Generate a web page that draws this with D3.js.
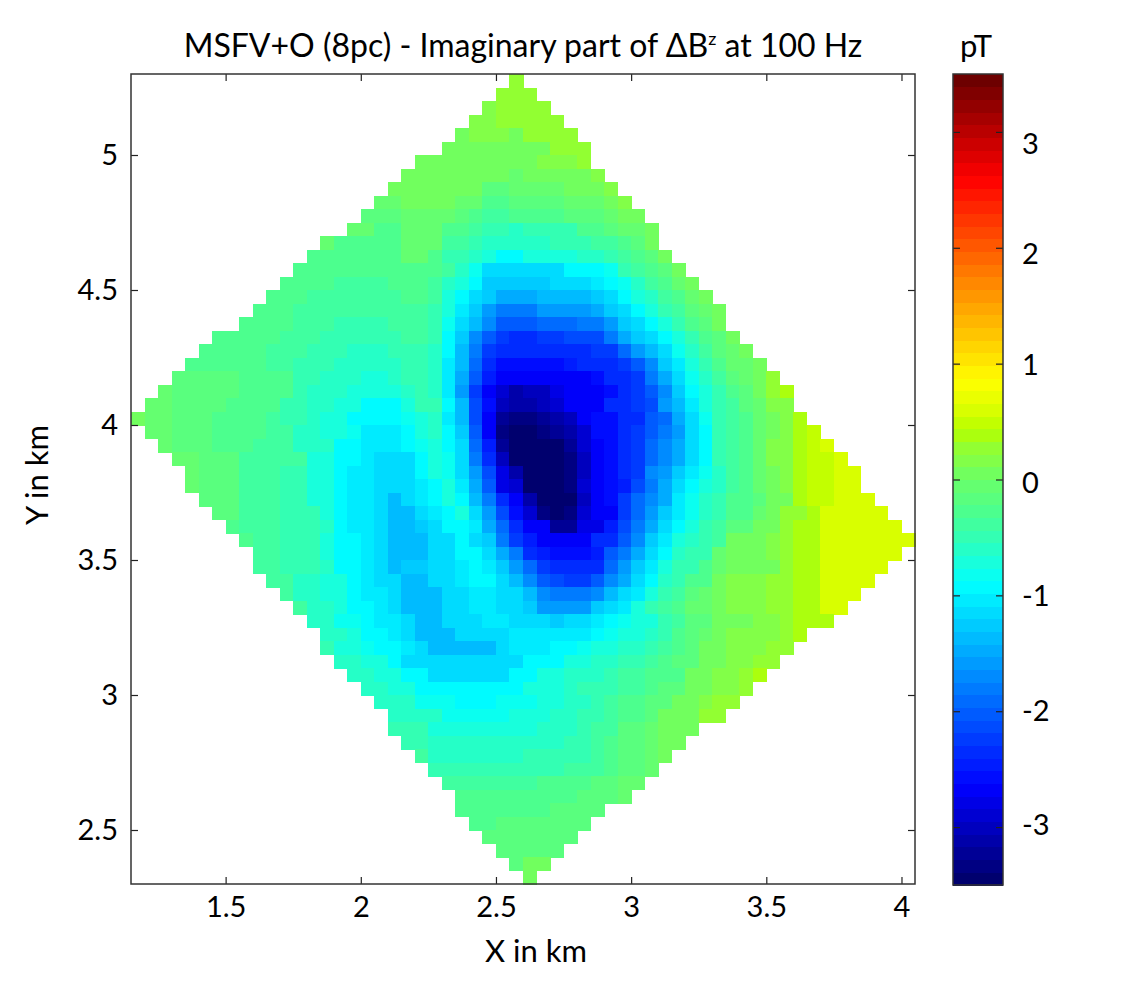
<!DOCTYPE html>
<html>
<head>
<meta charset="utf-8">
<script src="https://cdn.jsdelivr.net/npm/d3@7"></script>
<style>
  html, body { margin: 0; padding: 0; background: #fff; }
  svg { display: block; }
  text { font-family: Lato, "Open Sans", sans-serif; fill: #000; }
  .frame { fill: none; stroke: #333; stroke-width: 1.5; }
  .domain { display: none; }
  .tick line { stroke: #222; stroke-width: 1.2; }
</style>
</head>
<body>
<script>
// grid of the map, km
const xFirst = 1.15, yFirst = 5.3, cellKm = 0.05;
const xTicks = [1.5, 2, 2.5, 3, 3.5, 4];
const yTicks = [2.5, 3, 3.5, 4, 4.5, 5];
const barTicks = [-3, -2, -1, 0, 1, 2, 3];

// colour map, pT
const stopValues = [-3.5, -2.65, -0.9, -0.5, -0.2, 0, 0.1, 0.3, 0.42, 0.62, 0.85, 1.75, 2.6, 3.5];
const stopColors = ['#000064', '#0000ff', '#00ffff', '#32ffb4', '#55ff82', '#69ff69', '#78ff55',
  '#96ff2d', '#b4ff00', '#dcff00', '#ffff00', '#ff8000', '#ff0000', '#640000'];

// first column of each row, top row first
const rowStarts = [28,27,26,25,24,23,21,20,19,18,17,16,14,13,12,11,10,9,8,6,5,4,3,2,1,0,1,2,3,4,
  4,5,6,7,8,9,9,10,11,12,13,14,14,15,16,17,18,19,19,20,21,22,23,24,24,25,26,27,28,29];

// imaginary part of the field, in 0.1 pT
const zRows = [
  [3],
  [3,3,3],
  [2,3,3,3,3],
  [2,2,3,3,3,3,3],
  [1,2,2,2,1,3,3,3,3],
  [1,1,1,1,1,1,1,1,3,3,3],
  [0,1,1,1,1,1,1,0,0,2,2,2,3],
  [0,0,0,0,0,0,0,0,-1,0,0,0,1,1,2],
  [0,0,0,0,0,0,0,-2,-2,-1,-1,-1,-1,0,0,0,2],
  [-1,-1,0,0,0,0,-1,-1,-3,-3,-2,-2,-2,-2,-1,-1,-1,0,2],
  [-2,-2,-2,-1,-1,-1,-1,-2,-3,-4,-4,-3,-3,-3,-3,-2,-2,-2,-1,0,1],
  [-1,-1,-3,-3,-1,-1,-1,-3,-3,-4,-5,-5,-6,-5,-5,-5,-5,-3,-3,-2,-1,-1,1],
  [-1,-3,-3,-3,-3,-3,-1,-1,-1,-4,-4,-5,-6,-6,-6,-6,-6,-5,-5,-5,-4,-4,-3,-2,0],
  [-3,-3,-3,-3,-3,-3,-3,-1,-1,-3,-5,-5,-6,-7,-9,-9,-7,-7,-7,-7,-6,-6,-5,-4,-3,-2,0],
  [-3,-3,-3,-3,-3,-3,-3,-3,-3,-3,-3,-4,-6,-8,-11,-11,-11,-11,-11,-11,-9,-9,-9,-8,-5,-4,-3,-2,0],
  [-3,-3,-3,-3,-4,-4,-4,-4,-3,-3,-3,-4,-6,-7,-9,-13,-13,-13,-13,-13,-12,-12,-12,-10,-9,-8,-6,-4,-3,-1,0],
  [-3,-3,-3,-4,-4,-4,-4,-4,-4,-4,-3,-3,-4,-7,-9,-12,-13,-15,-15,-15,-14,-14,-14,-14,-13,-11,-9,-7,-6,-4,-3,-1,0],
  [-3,-3,-3,-4,-4,-4,-4,-4,-4,-4,-4,-4,-4,-5,-7,-10,-13,-16,-18,-18,-18,-16,-16,-16,-16,-15,-13,-11,-9,-7,-5,-4,-2,-1,1],
  [-3,-3,-3,-3,-4,-4,-4,-5,-5,-5,-5,-4,-4,-4,-5,-8,-11,-14,-17,-20,-20,-20,-19,-19,-19,-18,-18,-16,-13,-11,-9,-7,-5,-3,-2,1],
  [-3,-3,-3,-3,-3,-4,-4,-4,-5,-5,-5,-5,-5,-5,-4,-4,-5,-9,-13,-17,-20,-22,-23,-23,-22,-22,-21,-21,-21,-18,-15,-13,-11,-9,-7,-5,-3,-2,0],
  [-3,-3,-3,-3,-3,-4,-4,-4,-5,-5,-5,-6,-6,-6,-5,-5,-5,-6,-9,-14,-18,-22,-24,-24,-24,-23,-23,-23,-23,-22,-22,-19,-16,-14,-11,-8,-6,-4,-2,-1,1],
  [-3,-3,-3,-3,-3,-3,-4,-4,-5,-5,-5,-6,-6,-6,-6,-6,-5,-5,-6,-10,-14,-19,-24,-26,-26,-26,-26,-26,-25,-24,-23,-23,-22,-20,-17,-13,-10,-7,-5,-3,-1,-1,1],
  [-2,-2,-2,-2,-2,-3,-3,-3,-3,-5,-5,-6,-6,-6,-7,-7,-6,-5,-5,-6,-10,-15,-20,-25,-27,-27,-27,-27,-27,-27,-27,-26,-24,-23,-22,-18,-15,-11,-8,-6,-4,-2,-1,1,3],
  [-1,-2,-2,-2,-2,-2,-3,-3,-3,-3,-5,-6,-6,-6,-7,-7,-7,-7,-6,-5,-6,-10,-16,-22,-27,-29,-31,-30,-30,-28,-27,-27,-27,-26,-23,-22,-20,-17,-13,-9,-7,-5,-3,-2,0,3,4],
  [-1,-1,-2,-2,-2,-2,-3,-3,-3,-3,-5,-5,-6,-6,-7,-7,-9,-9,-9,-7,-5,-5,-9,-14,-21,-26,-30,-31,-31,-30,-29,-27,-27,-27,-24,-23,-22,-21,-16,-14,-10,-7,-5,-4,-2,-1,2,2],
  [0,-1,-1,-2,-2,-2,-3,-3,-3,-3,-4,-5,-5,-6,-7,-7,-9,-9,-9,-9,-8,-7,-6,-10,-14,-21,-27,-32,-33,-33,-32,-31,-30,-27,-26,-26,-24,-23,-20,-19,-15,-11,-8,-5,-4,-3,-1,1,2,4],
  [-1,-1,-2,-2,-2,-3,-3,-3,-3,-4,-4,-6,-6,-7,-7,-8,-10,-10,-10,-9,-7,-6,-9,-13,-20,-27,-33,-35,-35,-33,-32,-31,-29,-26,-26,-24,-22,-20,-18,-16,-11,-9,-5,-4,-3,-1,1,2,4,5],
  [-1,-2,-2,-2,-3,-3,-3,-4,-4,-4,-6,-6,-6,-9,-9,-10,-10,-10,-9,-8,-7,-9,-12,-19,-25,-32,-35,-35,-35,-34,-32,-29,-27,-26,-24,-22,-19,-17,-15,-11,-9,-5,-4,-3,-1,2,2,4,5,6],
  [-1,-1,-2,-2,-2,-4,-4,-4,-4,-4,-7,-7,-9,-9,-10,-12,-12,-11,-9,-7,-8,-12,-18,-24,-30,-35,-35,-35,-35,-33,-30,-27,-26,-24,-22,-19,-17,-15,-11,-9,-5,-4,-3,-1,2,2,4,5,5,6],
  [-1,-2,-2,-2,-4,-4,-4,-5,-5,-7,-7,-9,-10,-10,-12,-12,-12,-9,-7,-8,-11,-16,-21,-28,-31,-35,-35,-35,-33,-30,-27,-26,-24,-22,-17,-16,-13,-10,-8,-6,-4,-3,-1,1,2,4,5,5,6,6],
  [-1,-2,-2,-2,-4,-4,-4,-5,-5,-7,-7,-9,-10,-10,-12,-12,-12,-10,-9,-7,-10,-15,-20,-28,-29,-35,-35,-35,-33,-29,-27,-26,-25,-21,-18,-15,-12,-9,-7,-6,-4,-3,-1,1,2,4,5,5,6,6],
  [-2,-2,-2,-4,-4,-4,-5,-5,-7,-7,-9,-10,-10,-12,-14,-12,-10,-9,-7,-9,-14,-18,-24,-27,-31,-35,-35,-34,-30,-27,-26,-22,-19,-17,-15,-10,-8,-6,-5,-3,-3,-2,1,1,4,5,5,6,6,6],
  [-2,-2,-4,-4,-4,-5,-5,-5,-7,-9,-10,-10,-12,-14,-14,-12,-10,-9,-7,-11,-16,-21,-26,-29,-33,-35,-33,-29,-27,-27,-22,-19,-16,-13,-10,-8,-6,-5,-3,-3,-1,1,3,3,4,6,6,6,6,6],
  [-3,-4,-4,-4,-5,-5,-5,-6,-9,-10,-10,-12,-14,-14,-13,-11,-9,-9,-10,-15,-19,-24,-27,-27,-32,-32,-28,-28,-25,-21,-18,-15,-11,-9,-7,-5,-4,-2,-2,0,1,3,4,4,6,6,6,6,6,6],
  [-3,-4,-4,-5,-5,-5,-7,-9,-9,-10,-12,-14,-14,-14,-12,-11,-9,-11,-13,-18,-22,-25,-27,-27,-27,-27,-24,-24,-20,-17,-13,-10,-7,-6,-5,-4,0,0,0,2,3,4,4,6,6,6,6,6,6,6],
  [-4,-4,-5,-5,-5,-7,-9,-9,-10,-12,-14,-14,-14,-12,-11,-9,-9,-12,-15,-18,-23,-25,-26,-26,-26,-25,-20,-18,-15,-11,-9,-6,-5,-5,-1,0,0,0,2,3,4,4,6,6,6,6,6,6],
  [-4,-4,-5,-5,-5,-6,-9,-9,-10,-12,-14,-13,-13,-12,-11,-10,-9,-10,-13,-16,-19,-22,-23,-24,-24,-24,-19,-16,-13,-10,-7,-5,-5,-3,-1,0,1,1,1,3,4,4,6,6,6,6,6],
  [-4,-4,-6,-6,-7,-7,-9,-10,-12,-12,-14,-14,-12,-11,-10,-9,-9,-11,-14,-17,-20,-21,-22,-22,-20,-17,-15,-11,-9,-6,-5,-3,-3,0,2,2,2,3,3,4,4,6,6,6,6],
  [-4,-6,-6,-7,-7,-9,-10,-10,-12,-14,-14,-14,-12,-12,-10,-10,-11,-12,-14,-17,-18,-18,-18,-17,-14,-11,-10,-7,-5,-4,-2,-1,0,2,2,2,3,3,4,4,6,6,6],
  [-4,-6,-6,-7,-9,-9,-10,-11,-14,-14,-14,-12,-12,-10,-10,-11,-11,-13,-16,-16,-16,-16,-13,-12,-10,-7,-5,-4,-3,-1,-1,1,2,2,2,3,3,4,4,6,6],
  [-6,-6,-8,-8,-9,-10,-10,-12,-14,-14,-11,-11,-11,-10,-10,-11,-11,-11,-13,-12,-12,-10,-9,-8,-7,-7,-5,-4,-2,-2,0,1,1,2,2,3,4,4,4],
  [-6,-6,-7,-9,-9,-10,-12,-14,-14,-14,-11,-11,-11,-11,-10,-10,-10,-10,-10,-10,-9,-8,-7,-7,-6,-5,-3,-2,-1,0,2,2,2,2,3,4],
  [-5,-7,-7,-8,-9,-9,-10,-12,-14,-14,-14,-14,-14,-12,-10,-10,-10,-9,-9,-8,-7,-7,-6,-6,-5,-4,-3,-2,1,1,2,2,2,3,3],
  [-6,-6,-7,-7,-9,-11,-11,-12,-12,-12,-12,-12,-12,-11,-9,-9,-9,-7,-7,-6,-6,-5,-5,-4,-3,-2,-2,1,1,2,2,3,3],
  [-6,-6,-7,-7,-9,-9,-11,-11,-11,-11,-11,-11,-9,-9,-7,-7,-6,-6,-6,-5,-4,-4,-3,-3,-3,0,0,2,2,3,4],
  [-6,-6,-7,-7,-9,-9,-9,-9,-9,-9,-9,-9,-7,-7,-7,-6,-5,-5,-5,-4,-4,-3,-2,-2,1,1,2,2,3],
  [-6,-6,-6,-8,-8,-8,-9,-9,-9,-8,-8,-8,-7,-7,-6,-6,-5,-4,-3,-3,-2,-2,0,0,2,3,3],
  [-6,-6,-6,-6,-8,-8,-8,-8,-8,-7,-7,-7,-6,-6,-5,-5,-4,-3,-3,-2,1,1,1,3,3],
  [-5,-5,-5,-7,-7,-7,-7,-7,-7,-7,-7,-6,-6,-6,-5,-4,-4,-2,-2,-1,1,1,1],
  [-5,-5,-6,-6,-6,-6,-6,-6,-6,-6,-6,-6,-5,-5,-4,-3,-2,-2,-1,1,1],
  [-4,-6,-6,-6,-6,-6,-6,-6,-5,-5,-5,-5,-5,-4,-3,-2,-2,-1,1],
  [-5,-5,-5,-5,-5,-5,-5,-5,-5,-5,-4,-4,-4,-3,-2,-2,-1],
  [-4,-4,-4,-4,-4,-4,-4,-3,-3,-3,-3,-2,-2,-1,-1],
  [-3,-3,-3,-3,-3,-3,-3,-3,-3,-2,-2,-2,-1],
  [-3,-3,-3,-3,-3,-3,-3,-2,-2,-2,-2],
  [-3,-3,-2,-2,-2,-2,-2,-2,-2],
  [-2,-2,-2,-2,-2,-2,-2],
  [-2,-2,-2,-2,-2],
  [-2,0,0],
  [1]
];

const width = 1126, height = 998;
const plot = { left: 131, right: 915, top: 74, bottom: 884 };
const bar = { left: 953, right: 1003, top: 74, bottom: 885 };

const svg = d3.select('body').append('svg').attr('width', width).attr('height', height);

const x = d3.scaleLinear().domain([1.15, 4.05]).range([plot.left, plot.right]);
const y = d3.scaleLinear().domain([2.3, 5.3]).range([plot.bottom, plot.top]);

// 64 flat colours like the figure's colour map
const ramp = d3.scaleLinear().domain(stopValues).range(stopColors).interpolate(d3.interpolateRgb);
const palette = d3.range(64).map(i => ramp(-3.5 + (i + 0.5) * 7 / 64));
const color = d3.scaleQuantize().domain([-3.5, 3.5]).range(palette);

// map cells
const cells = [];
zRows.forEach((row, r) => {
  row.forEach((z, i) => {
    cells.push({ col: rowStarts[r] + i, row: r, z: z / 10 });
  });
});

svg.append('g').attr('shape-rendering', 'crispEdges').selectAll('rect').data(cells).enter().append('rect')
  .attr('x', d => x(xFirst + d.col * cellKm))
  .attr('y', d => y(yFirst - d.row * cellKm))
  .attr('width', x(xFirst + cellKm) - x(xFirst) + 0.5)
  .attr('height', y(yFirst - cellKm) - y(yFirst) + 0.5)
  .attr('fill', d => color(d.z));

// axes, ticks point inward on all four sides
const tickLen = 7;
const xAxis = d3.axisBottom(x).tickValues(xTicks).tickSizeInner(-tickLen).tickSizeOuter(0).tickPadding(12).tickFormat(d => d);
const yAxis = d3.axisLeft(y).tickValues(yTicks).tickSizeInner(-tickLen).tickSizeOuter(0).tickPadding(13).tickFormat(d => d);

const gx = svg.append('g').attr('transform', `translate(0,${plot.bottom})`).call(xAxis);
const gy = svg.append('g').attr('transform', `translate(${plot.left},0)`).call(yAxis);
gx.selectAll('text').style('font-size', '29px');
gy.selectAll('text').style('font-size', '29px');
svg.append('g').attr('transform', `translate(0,${plot.top})`)
  .call(d3.axisTop(x).tickValues(xTicks).tickSizeInner(-tickLen).tickSizeOuter(0).tickFormat(''));
svg.append('g').attr('transform', `translate(${plot.right},0)`)
  .call(d3.axisRight(y).tickValues(yTicks).tickSizeInner(-tickLen).tickSizeOuter(0).tickFormat(''));

svg.append('rect').attr('class', 'frame')
  .attr('x', plot.left).attr('y', plot.top)
  .attr('width', plot.right - plot.left).attr('height', plot.bottom - plot.top);

// colour bar
const yBar = d3.scaleLinear().domain([-3.5, 3.5]).range([bar.bottom, bar.top]);
const band = 7 / palette.length;

svg.append('g').attr('shape-rendering', 'crispEdges').selectAll('rect').data(palette).enter().append('rect')
  .attr('x', bar.left)
  .attr('y', (d, i) => yBar(-3.5 + (i + 1) * band))
  .attr('width', bar.right - bar.left)
  .attr('height', yBar(0) - yBar(band) + 0.5)
  .attr('fill', d => d);

svg.append('g').attr('transform', `translate(${bar.left},0)`)
  .call(d3.axisLeft(yBar).tickValues(barTicks).tickSizeInner(-tickLen).tickSizeOuter(0).tickFormat(''));
svg.append('g').attr('transform', `translate(${bar.right},0)`)
  .call(d3.axisRight(yBar).tickValues(barTicks).tickSizeInner(-tickLen).tickSizeOuter(0).tickFormat(''));

svg.append('rect').attr('class', 'frame')
  .attr('x', bar.left).attr('y', bar.top)
  .attr('width', bar.right - bar.left).attr('height', bar.bottom - bar.top);

// the bar's numbers sit a bit off its ticks in the figure
const yBarLabel = d3.scaleLinear().domain(barTicks).range([825, 711, 596, 483, 365, 254, 144]);
svg.append('g').selectAll('text').data(barTicks).enter().append('text')
  .attr('x', 1022).attr('y', d => yBarLabel(d)).attr('dy', '0.36em')
  .style('font-size', '29px')
  .text(d => d);

// titles
const title = svg.append('text').attr('x', 523).attr('y', 57).attr('text-anchor', 'middle').style('font-size', '32px');
title.append('tspan').text('MSFV+O (8pc) - Imaginary part of ΔB');
title.append('tspan').attr('dy', -12).style('font-size', '18px').text('z');
title.append('tspan').attr('dy', 12).text(' at 100 Hz');

svg.append('text').attr('x', 976).attr('y', 57).attr('text-anchor', 'middle').style('font-size', '31px').text('pT');
svg.append('text').attr('x', 536).attr('y', 962).attr('text-anchor', 'middle').style('font-size', '31px').text('X in km');
svg.append('text').attr('transform', 'translate(48,475) rotate(-90)').attr('text-anchor', 'middle').style('font-size', '31px').text('Y in km');
</script>
</body>
</html>
